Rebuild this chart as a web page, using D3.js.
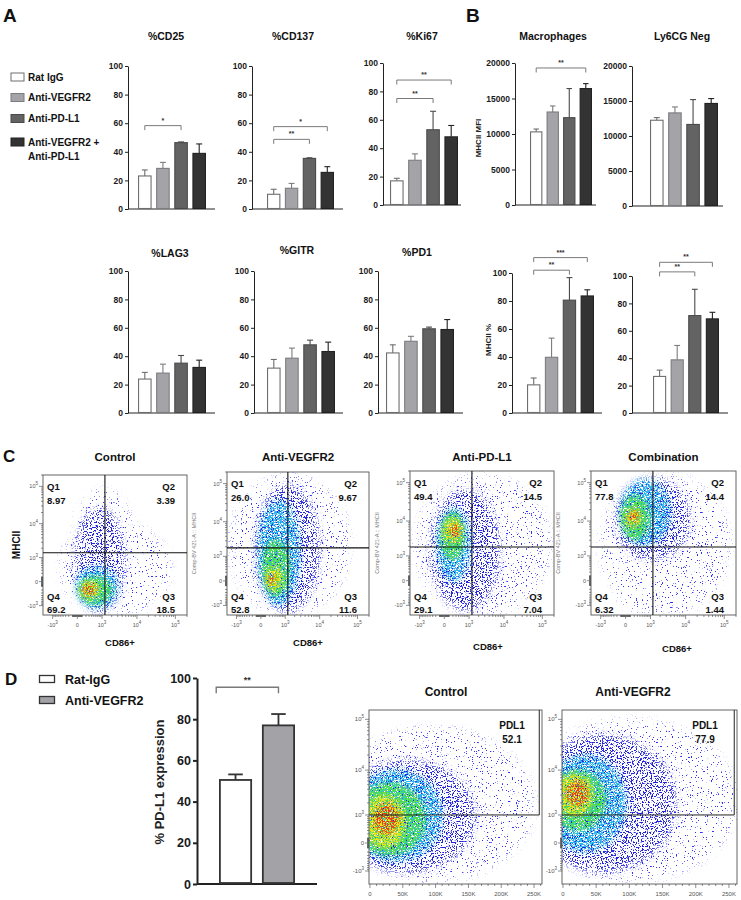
<!DOCTYPE html>
<html>
<head>
<meta charset="utf-8">
<script src="https://cdn.jsdelivr.net/npm/d3@7"></script>
<style>
  body { margin: 0; background: #fff; }
  svg { display: block; }
</style>
</head>
<body>
<svg id="fig" width="741" height="900"></svg>
<script>
const FONT = '"Liberation Sans", Arial, Helvetica, sans-serif';

// ---- bar chart data (A, B, D) ----
const GROUPS = ["Rat IgG", "Anti-VEGFR2", "Anti-PD-L1", "Anti-VEGFR2 +|Anti-PD-L1"];
const PCT_TICKS = [0, 20, 40, 60, 80, 100];
const MFI_TICKS = [0, 5000, 10000, 15000, 20000];

const CD25_MEAN = [23.1, 28.4, 46.4, 38.9], CD25_ERR = [4.2, 4.2, 0.5, 6.6];
const CD137_MEAN = [10.3, 14.5, 35.4, 25.6], CD137_ERR = [3.5, 3.4, 0.4, 4.0];
const KI67_MEAN = [17, 31.5, 53, 48], KI67_ERR = [1.8, 4.5, 13, 8];
const MAC_MEAN = [10300, 13100, 12300, 16400], MAC_ERR = [400, 850, 4100, 700];
const LY6_MEAN = [12250, 13300, 11650, 14650], LY6_ERR = [380, 850, 3550, 700];
const LAG3_MEAN = [23.9, 28.1, 35.1, 32.1], LAG3_ERR = [4.7, 6.3, 5.4, 5.1];
const GITR_MEAN = [31.6, 38.6, 48, 43.3], GITR_ERR = [6.1, 7.1, 3.3, 6.6];
const PD1_MEAN = [42.3, 50.5, 59.3, 58.8], PD1_ERR = [5.7, 3.5, 1.2, 7];
const MHCII_MEAN = [20.1, 39.8, 80.6, 83.6], MHCII_ERR = [4.9, 13.7, 16.1, 4.4];
const LY6P_MEAN = [26.7, 38.8, 71.1, 68.7], LY6P_ERR = [4.6, 10.5, 19.2, 4.8];

// significance brackets: [from bar, to bar, height (axis units), label]
const CD25_SIG = [[0, 2, 58.3, "*"]];
const CD137_SIG = [[0, 3, 57.6, "*"], [0, 2, 48.7, "**"]];
const KI67_SIG = [[0, 3, 88, "**"], [0, 2, 75, "**"]];
const MAC_SIG = [[0, 3, 19300, "**"]];
const MHCII_SIG = [[0, 3, 111, "***"], [0, 2, 102, "**"]];
const LY6P_SIG = [[0, 3, 110, "**"], [0, 2, 103, "**"]];

const D_GROUPS = ["Rat-IgG", "Anti-VEGFR2"];
const PDL1_MEAN = [50.5, 77], PDL1_ERR = [2.7, 5.5];
const PDL1_SIG = [[-0.45, 1, 95.5, "**"]];

// ---- flow cytometry data (C, D) ----
const FLOW_TICKS = [-1000, 0, 1000, 10000, 100000];
const C_TITLES = ["Control", "Anti-VEGFR2", "Anti-PD-L1", "Combination"];
const C_QUADS = [            // Q1, Q2, Q3, Q4
  ["8.97", "3.39", "18.5", "69.2"],
  ["26.0", "9.67", "11.6", "52.8"],
  ["49.4", "14.5", "7.04", "29.1"],
  ["77.8", "14.4", "1.44", "6.32"]
];
const C_GATES = [[1240, 1450], [1220, 1860], [1240, 1900], [1200, 1900]]; // [CD86, MHCII]
// density regions: [x low, x high, y low, y high, density level 0-5]
const C_BLOBS = [
  [[-113, 8950, -2000, 87000, 0], [-542, 72800, -2000, 11000, 0], [-44, 4730, -1630, 26400, 1],
   [-25, 3030, -1230, 457, 2], [11, 2040, -903, 118, 3], [50, 846, -542, 11, 4], [95, 603, -367, -46, 5]],
  [[-1630, 62000, -1990, 168000, 0], [-131, 10000, -1610, 92600, 1], [-60, 2830, -957, 37600, 2],
   [18, 1416, -478, 3190, 3], [81, 827, -213, 430, 4], [156, 441, -81, 130, 5]],
  [[-1430, 157000, -2000, 157000, 0], [2190, 48000, 722, 117000, 0], [-404, 7840, -1430, 64500, 1],
   [-165, 1070, -25, 22000, 2], [-90, 722, 722, 17300, 3], [-24, 603, 2490, 12000, 4], [118, 457, 3700, 8440, 5]],
  [[-1040, 140000, -2000, 157000, 0], [-261, 2760, -1630, 2190, 0], [-261, 13000, 722, 132000, 1],
   [-117, 3850, 2190, 117000, 2], [-117, 981, 3030, 48000, 3], [-10, 487, 6600, 22000, 4], [66, 360, 8950, 18400, 5]]
];

const D_TITLES = ["Control", "Anti-VEGFR2"];
const D_PDL1 = ["52.1", "77.9"];
const D_GATE = [1000, 258000];
const D_X_TICKS = [0, 50000, 100000, 150000, 200000, 250000];
const D_X_LABELS = ["0", "50K", "100K", "150K", "200K", "250K"];
const D_BLOBS = [
  [[-60000, 250000, -1800, 70000, 0], [-50000, 160000, -1100, 16000, 1], [-30000, 110000, -500, 10000, 2],
   [-25000, 85000, -300, 5500, 3], [-10000, 55000, -100, 3000, 4], [5000, 45000, 200, 1900, 5]],
  [[-60000, 262000, -1800, 100000, 0], [-50000, 170000, -1100, 50000, 1], [-30000, 95000, -200, 20000, 2],
   [-20000, 65000, 300, 10000, 3], [-10000, 45000, 900, 8400, 4], [5000, 38000, 1700, 6000, 5]]
];

// ---- styles ----
const BAR_FILL = ["#ffffff", "#a4a4a8", "#636363", "#333333"];
const BAR_EDGE = ["#6e6e6e", "#7c7c80", "#4a4a4a", "#222222"];
const LEVEL_COLORS = ["#3030f5", "#2222d8", "#28b8ee", "#4ee04a", "#eee41a", "#ee3a18"];
const SPECKLE = [
  { blur: 4, t: 0.67, seed: 3 },
  { blur: 3.5, t: 0.56, seed: 5 },
  { blur: 3, t: 0.47, seed: 7 },
  { blur: 2.5, t: 0.44, seed: 9 },
  { blur: 2.2, t: 0.46, seed: 11 },
  { blur: 2, t: 0.49, seed: 13 }
];

const svg = d3.select("#fig").attr("font-family", FONT);
const defs = svg.append("defs");

SPECKLE.forEach((s, i) => {
  const f = defs.append("filter").attr("id", "sp" + i)
    .attr("filterUnits", "userSpaceOnUse")
    .attr("x", 0).attr("y", 0).attr("width", 741).attr("height", 900)
    .attr("color-interpolation-filters", "sRGB");
  f.append("feGaussianBlur").attr("in", "SourceGraphic").attr("stdDeviation", s.blur).attr("result", "b");
  f.append("feTurbulence").attr("type", "fractalNoise").attr("baseFrequency", 0.8)
    .attr("numOctaves", 2).attr("seed", s.seed).attr("result", "n");
  const k = 20;
  f.append("feColorMatrix").attr("in", "n").attr("type", "matrix")
    .attr("values", `0 0 0 0 0  0 0 0 0 0  0 0 0 0 0  ${k} 0 0 0 ${-k * s.t}`).attr("result", "m");
  f.append("feComposite").attr("in", "b").attr("in2", "m").attr("operator", "in");
});

function txt(g, x, y, s, size, opts = {}) {
  return g.append("text").attr("x", x).attr("y", y).text(s)
    .attr("font-size", size).attr("font-weight", opts.weight || "bold")
    .attr("fill", opts.fill || "#111").attr("text-anchor", opts.anchor || "start");
}

// ---------------- bar charts ----------------
function drawBarChart(c) {
  const g = svg.append("g");
  const lw = c.lw || 1;
  const y = d3.scaleLinear().domain([0, c.max]).range([c.base, c.top]);
  const x = d3.scaleBand().domain(d3.range(c.mean.length)).range(c.bx).paddingInner(c.pad || 0.25);
  const bw = x.bandwidth(), step = x.step();
  const cx = i => x(0) + bw / 2 + i * step;

  const ga = g.append("g").attr("transform", `translate(${c.ax},0)`)
    .call(d3.axisLeft(y).tickValues(c.ticks).tickFormat(d3.format("d"))
      .tickSizeInner(c.tk || 3).tickSizeOuter(0).tickPadding(2));
  ga.select(".domain").attr("stroke", "#222").attr("stroke-width", lw);
  ga.selectAll(".tick line").attr("stroke", "#222").attr("stroke-width", lw);
  ga.selectAll(".tick text").attr("font-family", FONT).attr("font-size", c.fs || 8.5)
    .attr("font-weight", "bold").attr("fill", "#1a1a1a");
  g.append("line").attr("x1", c.ax).attr("x2", c.xEnd).attr("y1", c.base).attr("y2", c.base)
    .attr("stroke", "#222").attr("stroke-width", lw);

  const fill = c.fill || BAR_FILL, edge = c.edge || BAR_EDGE, bs = c.bs || 1.1;
  // error whiskers (upper only)
  c.mean.forEach((m, i) => {
    const yt = y(m + c.err[i]), xc = cx(i);
    g.append("line").attr("x1", xc).attr("x2", xc).attr("y1", y(m)).attr("y2", yt)
      .attr("stroke", edge[i]).attr("stroke-width", bs);
    g.append("line").attr("x1", xc - bw * 0.22).attr("x2", xc + bw * 0.22).attr("y1", yt).attr("y2", yt)
      .attr("stroke", edge[i]).attr("stroke-width", bs);
  });
  g.selectAll("rect.bar").data(c.mean).join("rect").attr("class", "bar")
    .attr("x", (d, i) => x(i) + bs / 2).attr("width", bw - bs)
    .attr("y", d => y(d)).attr("height", d => c.base - y(d) - lw / 2)
    .attr("fill", (d, i) => fill[i]).attr("stroke", (d, i) => edge[i]).attr("stroke-width", bs);

  (c.sig || []).forEach(([a, b, v, lab]) => {
    const yb = y(v), drop = c.drop || 4.5;
    g.append("path").attr("d", `M${cx(a)},${yb + drop}V${yb}H${cx(b)}V${yb + drop}`)
      .attr("fill", "none").attr("stroke", "#7a7a7a").attr("stroke-width", c.sw || 1);
    txt(g, (cx(a) + cx(b)) / 2, yb - (c.sgap || 3), lab, c.sfs || 7, { anchor: "middle", fill: "#333" });
  });

  if (c.title) txt(g, c.tx, c.ty, c.title, 10.5, { anchor: "middle" });
  if (c.ylab) {
    txt(g, 0, 0, c.ylab, c.yfs || 8, { anchor: "middle", fill: "#222" })
      .attr("transform", `translate(${c.ylx},${c.yly}) rotate(-90)`);
  }
}

const BAR_CHARTS = [
  { title: "%CD25", mean: CD25_MEAN, err: CD25_ERR, sig: CD25_SIG, max: 100, ticks: PCT_TICKS,
    ax: 128, top: 66, base: 209, bx: [138, 206], xEnd: 215, tx: 166, ty: 40 },
  { title: "%CD137", mean: CD137_MEAN, err: CD137_ERR, sig: CD137_SIG, max: 100, ticks: PCT_TICKS,
    ax: 252, top: 66, base: 209, bx: [267, 334], xEnd: 343, tx: 293, ty: 40 },
  { title: "%Ki67", mean: KI67_MEAN, err: KI67_ERR, sig: KI67_SIG, max: 100, ticks: PCT_TICKS,
    ax: 383, top: 63, base: 205, bx: [390, 458], xEnd: 461, tx: 422, ty: 40 },
  { title: "Macrophages", mean: MAC_MEAN, err: MAC_ERR, sig: MAC_SIG, max: 20000, ticks: MFI_TICKS,
    ax: 515, top: 63, base: 205, bx: [530, 592], xEnd: 596, tx: 553, ty: 40,
    ylab: "MHCII MFI", ylx: 481, yly: 138 },
  { title: "Ly6CG Neg", mean: LY6_MEAN, err: LY6_ERR, max: 20000, ticks: MFI_TICKS,
    ax: 632, top: 66, base: 206, bx: [650, 718], xEnd: 723, tx: 682, ty: 40 },
  { title: "%LAG3", mean: LAG3_MEAN, err: LAG3_ERR, max: 100, ticks: PCT_TICKS,
    ax: 128, top: 271, base: 413, bx: [138, 206], xEnd: 215, tx: 170, ty: 257 },
  { title: "%GITR", mean: GITR_MEAN, err: GITR_ERR, max: 100, ticks: PCT_TICKS,
    ax: 254, top: 271, base: 413, bx: [267, 335], xEnd: 343, tx: 297, ty: 254 },
  { title: "%PD1", mean: PD1_MEAN, err: PD1_ERR, max: 100, ticks: PCT_TICKS,
    ax: 378, top: 271, base: 413, bx: [386, 454], xEnd: 463, tx: 417, ty: 256 },
  { mean: MHCII_MEAN, err: MHCII_ERR, sig: MHCII_SIG, max: 100, ticks: PCT_TICKS,
    ax: 512, top: 273, base: 413, bx: [527, 594], xEnd: 602, ylab: "MHCII %", ylx: 491, yly: 340 },
  { mean: LY6P_MEAN, err: LY6P_ERR, sig: LY6P_SIG, max: 100, ticks: PCT_TICKS,
    ax: 632, top: 276, base: 413, bx: [653, 719], xEnd: 728 },
  { mean: PDL1_MEAN, err: PDL1_ERR, sig: PDL1_SIG, max: 100, ticks: PCT_TICKS,
    ax: 197, top: 678, base: 884, bx: [219, 295], pad: 0.23, xEnd: 317,
    lw: 2, bs: 1.8, tk: 4, fs: 12.5, sfs: 9, sgap: 4, drop: 6, sw: 1.4,
    fill: ["#ffffff", "#a3a3a7"], edge: ["#333333", "#333333"],
    ylab: "% PD-L1 expression", ylx: 164, yly: 782, yfs: 13 }
];
BAR_CHARTS.forEach(drawBarChart);

// legend A
const legA = svg.append("g");
const LEG_A_Y = [77, 97.5, 118.5, 142];
GROUPS.forEach((name, i) => {
  legA.append("rect").attr("x", 11).attr("y", LEG_A_Y[i] - 4).attr("width", 13).attr("height", 8)
    .attr("fill", BAR_FILL[i]).attr("stroke", BAR_EDGE[i]).attr("stroke-width", 1);
  name.split("|").forEach((line, j) => txt(legA, 28, LEG_A_Y[i] + 3.5 + j * 14.5, line, 10));
});

// legend D
const legD = svg.append("g");
D_GROUPS.forEach((name, i) => {
  const yy = 679 + i * 21;
  legD.append("rect").attr("x", 39.5).attr("y", yy - 3.5).attr("width", 15).attr("height", 7)
    .attr("fill", ["#ffffff", "#a3a3a7"][i]).attr("stroke", "#333").attr("stroke-width", 1.3);
  txt(legD, 65, yy + 4.5, name, 12.5);
});

// panel letters
txt(svg, 3, 22, "A", 19);
txt(svg, 466, 22, "B", 19);
txt(svg, 3, 462, "C", 17);
txt(svg, 5, 685, "D", 17);

// ---------------- flow plots ----------------
function powLabel(sel, v) {
  if (v === 0) { sel.text("0"); return; }
  const e = Math.round(Math.log10(Math.abs(v)));
  sel.text(null);
  sel.append("tspan").text((v < 0 ? "-" : "") + "10");
  sel.append("tspan").attr("dy", -3).attr("font-size", 4.5).text(e);
}

const LOG_MINOR = [];
d3.range(-100, 101, 10).forEach(v => LOG_MINOR.push(v));
[200, 300, 400, 500, 600, 700, 800, 900, 2000, 3000, 4000, 5000, 6000, 7000, 8000, 9000,
 20000, 30000, 40000, 50000, 60000, 70000, 80000, 90000, 200000].forEach(v => { LOG_MINOR.push(v); if (v < 2000) LOG_MINOR.push(-v); });

function drawDensity(g, x, y, blobs, id, box) {
  const [L, T, R, B] = box;
  defs.append("clipPath").attr("id", id).append("rect")
    .attr("x", L).attr("y", T).attr("width", R - L).attr("height", B - T);
  const dg = g.append("g").attr("clip-path", `url(#${id})`);
  d3.range(6).forEach(lvl => {
    dg.append("g").attr("filter", `url(#sp${lvl})`)
      .selectAll("ellipse").data(blobs.filter(b => b[4] === lvl)).join("ellipse")
      .attr("cx", b => (x(b[0]) + x(b[1])) / 2)
      .attr("cy", b => (y(b[2]) + y(b[3])) / 2)
      .attr("rx", b => Math.abs(x(b[1]) - x(b[0])) / 2)
      .attr("ry", b => Math.abs(y(b[3]) - y(b[2])) / 2)
      .attr("fill", LEVEL_COLORS[lvl]);
  });
}

function logAxisTicks(g, scale, orient, pos, major) {
  const dom = scale.domain();
  const inDom = v => v >= dom[0] && v <= dom[1];
  const all = major.map(v => [v, 4]).concat(LOG_MINOR.filter(v => !major.includes(v)).map(v => [v, 2]));
  all.filter(d => inDom(d[0])).forEach(([v, len]) => {
    const p = scale(v);
    if (orient === "left") g.append("line").attr("x1", pos - len).attr("x2", pos).attr("y1", p).attr("y2", p);
    else g.append("line").attr("x1", p).attr("x2", p).attr("y1", pos).attr("y2", pos + len);
  });
  g.selectAll("line").attr("stroke", "#444").attr("stroke-width", 0.6);
}

const C_LAYOUT = [
  { box: [43, 475, 187, 615], xl: [120, 646], yl: "MHCII" },
  { box: [227, 472, 369, 615], xl: [308, 646], yl: "Comp-BV 421-A :: MHCII" },
  { box: [410, 471, 554, 615], xl: [488, 650], yl: "Comp-BV 421-A :: MHCII" },
  { box: [591, 471, 736, 615], xl: [677, 652], yl: "Comp-BV 421-A :: MHCII" }
];

C_LAYOUT.forEach((lay, k) => {
  const [L, T, R, B] = lay.box;
  const g = svg.append("g");
  const x = d3.scaleSymlog().constant(300).domain([-2000, 200000]).range([L, R]);
  const y = d3.scaleSymlog().constant(300).domain([-2000, 200000]).range([B, T]);
  drawDensity(g, x, y, C_BLOBS[k], "clipC" + k, lay.box);

  g.append("rect").attr("x", L).attr("y", T).attr("width", R - L).attr("height", B - T)
    .attr("fill", "none").attr("stroke", "#555").attr("stroke-width", 0.9);
  const [gx, gy] = C_GATES[k];
  g.append("line").attr("x1", x(gx)).attr("x2", x(gx)).attr("y1", T).attr("y2", B)
    .attr("stroke", "#111").attr("stroke-width", 1.1);
  g.append("line").attr("x1", L).attr("x2", R).attr("y1", y(gy)).attr("y2", y(gy))
    .attr("stroke", "#111").attr("stroke-width", 1.1);

  const tk = g.append("g");
  logAxisTicks(tk.append("g"), y, "left", L, FLOW_TICKS);
  logAxisTicks(tk.append("g"), x, "bottom", B, FLOW_TICKS);
  FLOW_TICKS.forEach(v => {
    const ty = g.append("text").attr("x", L - 5).attr("y", y(v) + 2).attr("text-anchor", "end")
      .attr("font-size", 5.5).attr("fill", "#555");
    powLabel(ty, v);
    const tx = g.append("text").attr("x", x(v)).attr("y", B + 12).attr("text-anchor", "middle")
      .attr("font-size", 5.5).attr("fill", "#555");
    powLabel(tx, v);
  });

  const q = C_QUADS[k];
  txt(g, L + 4, T + 15, "Q1", 9.5);
  txt(g, L + 4, T + 29, q[0], 9.5);
  txt(g, R - 12, T + 15, "Q2", 9.5, { anchor: "end" });
  txt(g, R - 12, T + 29, q[1], 9.5, { anchor: "end" });
  txt(g, L + 4, B - 15, "Q4", 9.5);
  txt(g, L + 4, B - 2, q[3], 9.5);
  txt(g, R - 12, B - 15, "Q3", 9.5, { anchor: "end" });
  txt(g, R - 12, B - 2, q[2], 9.5, { anchor: "end" });

  txt(g, (L + R) / 2, 461, C_TITLES[k], 11.5, { anchor: "middle" });
  txt(g, lay.xl[0], lay.xl[1], "CD86+", 9.5, { anchor: "middle" });
  if (k === 0) {
    txt(g, 0, 0, lay.yl, 10, { anchor: "middle" }).attr("transform", `translate(20,${(T + B) / 2}) rotate(-90)`);
  } else {
    txt(g, 0, 0, lay.yl, 5.5, { anchor: "middle", weight: "normal", fill: "#777" })
      .attr("transform", `translate(${L - 31},${(T + B) / 2}) rotate(-90)`);
  }
});

const D_LAYOUT = [
  { box: [369, 710, 542, 884], tx: 446, px: 512 },
  { box: [562, 710, 737, 884], tx: 633, px: 705 }
];

D_LAYOUT.forEach((lay, k) => {
  const [L, T, R, B] = lay.box;
  const g = svg.append("g");
  const x = d3.scaleLinear().domain([-1500, 262144]).range([L, R]);
  const y = d3.scaleSymlog().constant(400).domain([-2100, 152000]).range([B, T]);
  drawDensity(g, x, y, D_BLOBS[k], "clipD" + k, lay.box);

  g.append("rect").attr("x", L).attr("y", T).attr("width", R - L).attr("height", B - T)
    .attr("fill", "none").attr("stroke", "#555").attr("stroke-width", 0.9);
  const [gy, gx] = D_GATE;
  g.append("path").attr("d", `M${L},${y(gy)}H${x(gx)}V${T}`)
    .attr("fill", "none").attr("stroke", "#222").attr("stroke-width", 1);

  const tk = g.append("g");
  logAxisTicks(tk.append("g"), y, "left", L, FLOW_TICKS);
  const xt = g.append("g");
  d3.range(0, 262144, 10000).forEach(v => {
    const len = v % 50000 === 0 ? 4 : 2;
    xt.append("line").attr("x1", x(v)).attr("x2", x(v)).attr("y1", B).attr("y2", B + len);
  });
  xt.selectAll("line").attr("stroke", "#444").attr("stroke-width", 0.6);
  D_X_TICKS.forEach((v, i) => {
    g.append("text").attr("x", x(v)).attr("y", B + 12).attr("text-anchor", "middle")
      .attr("font-size", 6).attr("fill", "#555").text(D_X_LABELS[i]);
  });
  FLOW_TICKS.forEach(v => {
    const ty = g.append("text").attr("x", L - 5).attr("y", y(v) + 2).attr("text-anchor", "end")
      .attr("font-size", 6).attr("fill", "#555");
    powLabel(ty, v);
  });

  txt(g, lay.tx, 696, D_TITLES[k], 12, { anchor: "middle" });
  txt(g, lay.px, 729, "PDL1", 10, { anchor: "middle" });
  txt(g, lay.px, 743, D_PDL1[k], 10, { anchor: "middle" });
});
</script>
</body>
</html>
